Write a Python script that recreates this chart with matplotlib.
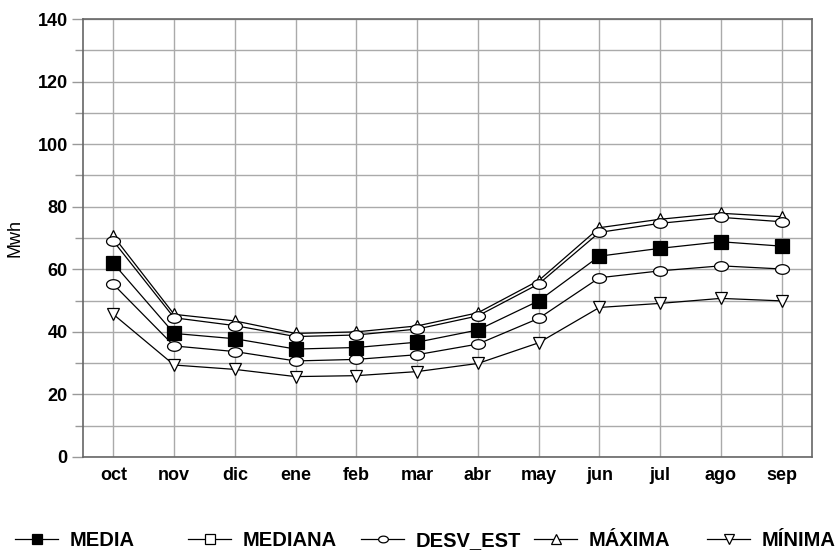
import numpy as np
import matplotlib.pyplot as plt
from matplotlib.lines import Line2D
from matplotlib.path import Path

months = ["oct", "nov", "dic", "ene", "feb", "mar", "abr", "may", "jun", "jul", "ago", "sep"]

media = [61.9, 39.5, 37.8, 34.5, 35.0, 36.7, 40.6, 49.9, 64.2, 66.7, 68.8, 67.4]
mediana = [69.0, 44.5, 42.0, 38.5, 39.0, 40.9, 45.1, 55.3, 71.8, 74.7, 76.6, 75.2]
desv_est = [55.2, 35.5, 33.7, 30.7, 31.2, 32.7, 36.1, 44.3, 57.3, 59.5, 61.1, 60.1]
maxima = [70.6, 45.6, 43.5, 39.5, 40.0, 41.9, 46.1, 56.4, 73.3, 76.0, 77.9, 76.8]
minima = [45.6, 29.4, 28.0, 25.7, 26.0, 27.3, 29.9, 36.5, 47.8, 49.1, 50.7, 49.9]

plt.rcParams['font.family'] = ['Liberation Sans', 'DejaVu Sans']

# slightly flattened circle, as in the original chart
t = np.linspace(0, 2 * np.pi, 60)
ellipse = Path(np.column_stack([1.45 * np.cos(t), np.sin(t)]), closed=True)

fig = plt.figure(figsize=(8.4, 5.51), dpi=100)
ax = fig.add_axes([0.0988, 0.1706, 0.8679, 0.7949])

x = list(range(len(months)))
kw = dict(color="black", lw=0.9, mec="black", mew=0.9)
ax.plot(x, maxima, marker="^", ms=9, mfc="white", **kw, zorder=3)
ax.plot(x, mediana, marker=ellipse, ms=10, mfc="white", **kw, zorder=3)
ax.plot(x, media, marker="s", ms=10, mfc="black", **kw, zorder=4)
ax.plot(x, desv_est, marker=ellipse, ms=10, mfc="white", **kw, zorder=3)
ax.plot(x, minima, marker="v", ms=9, mfc="white", **kw, zorder=3)

ax.set_xlim(-0.5, len(months) - 0.5)
ax.set_ylim(0, 140)
ax.set_xticks(x)
ax.set_xticklabels(months, fontsize=13, fontweight="bold")
ax.set_yticks(range(0, 141, 20))
ax.set_yticks(range(10, 140, 20), minor=True)
ax.tick_params(axis="y", which="major", labelsize=13, length=8, color="#999999", width=1, pad=3)
ax.tick_params(axis="y", which="minor", length=6, color="#999999", width=1)
ax.tick_params(axis="x", length=0, pad=7)
for lab in ax.get_yticklabels():
    lab.set_fontweight("bold")
ax.grid(True, which="both", color="#aaaaaa", lw=1)
ax.set_axisbelow(True)
for s in ax.spines.values():
    s.set_color("#666666")
    s.set_linewidth(1.2)
ax.set_ylabel("Mwh", fontsize=13, labelpad=10)

# legend drawn by hand: five equal slots along the bottom, text on a common baseline
legend_markers = [("s", 6.5, "black"), ("s", 7, "white"), (ellipse, 7, "white"),
                  ("^", 7, "white"), ("v", 7, "white")]
labels = ["MEDIA", "MEDIANA", "DESV_EST", "MÁXIMA", "MÍNIMA"]
W, H = 840, 551
for i, ((m, ms, fc), lab) in enumerate(zip(legend_markers, labels)):
    x0 = 15 + i * 173
    fig.add_artist(Line2D([x0 / W, (x0 + 21.5) / W, (x0 + 43) / W], [1 - 539 / H] * 3,
                          transform=fig.transFigure, marker=m, ms=ms, mfc=fc,
                          markevery=[1], **kw))
    fig.text((x0 + 55) / W, 1 - 546 / H, lab, fontsize=14.5, fontweight="bold",
             ha="left", va="baseline")

fig.savefig("out.png", dpi=100)
